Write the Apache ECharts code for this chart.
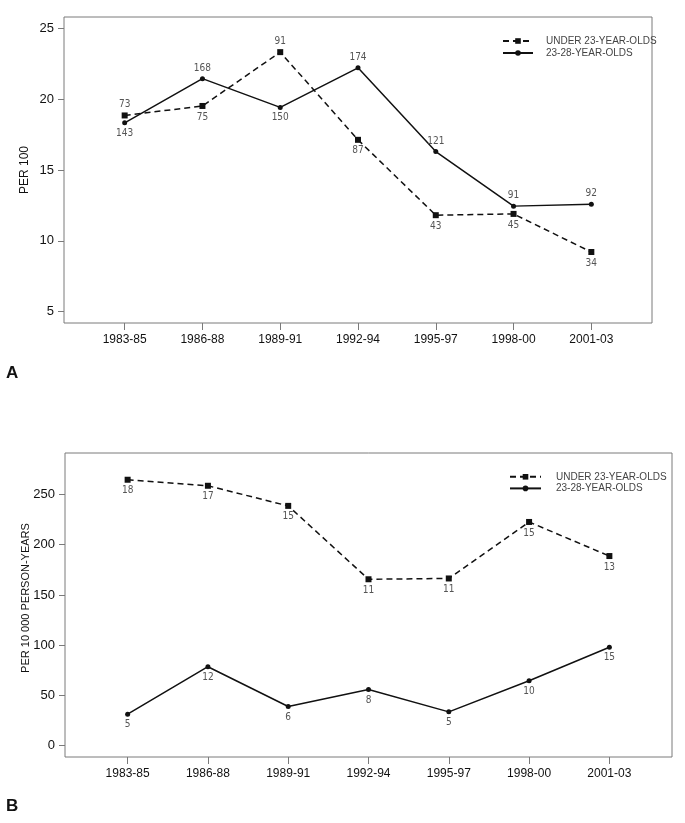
<!DOCTYPE html>
<html>
<head>
<meta charset="utf-8">
<script src="https://cdn.jsdelivr.net/npm/echarts@6/dist/echarts.min.js"></script>
<style>
  html, body { margin: 0; padding: 0; background: #fff; }
  #chart { width: 685px; height: 823px; }
</style>
</head>
<body>
<div id="chart"></div>
<script>
var periods = ['1983-85', '1986-88', '1989-91', '1992-94', '1995-97', '1998-00', '2001-03'];
var seriesNames = ['UNDER 23-YEAR-OLDS', '23-28-YEAR-OLDS'];

// panel A: per 100
var rateA_under23 = [18.85, 19.52, 23.32, 17.13, 11.81, 11.9, 9.21];
var rateA_23to28 = [18.33, 21.45, 19.42, 22.21, 16.3, 12.45, 12.59];
var countA_under23 = [73, 75, 91, 87, 43, 45, 34];
var countA_23to28 = [143, 168, 150, 174, 121, 91, 92];
var ticksA = [5, 10, 15, 20, 25];

// panel B: per 10 000 person-years
var rateB_under23 = [264.6, 258.6, 238.6, 165.6, 166.4, 222.6, 188.7];
var rateB_23to28 = [31.4, 78.6, 39, 56, 33.7, 64.7, 98];
var countB_under23 = [18, 17, 15, 11, 11, 15, 13];
var countB_23to28 = [5, 12, 6, 8, 5, 10, 15];
var ticksB = [0, 50, 100, 150, 200, 250];

// where the count labels sit
var posA_under23 = ['top', 'bottom', 'top', 'bottom', 'bottom', 'bottom', 'bottom'];
var posA_23to28 = ['bottom', 'top', 'bottom', 'top', 'top', 'top', 'top'];

var chart = echarts.init(document.getElementById('chart'));

var tickFont = "'Liberation Sans', Arial, sans-serif";
var labelFont = "'Liberation Sans Narrow', 'DejaVu Sans Condensed', 'Liberation Sans', sans-serif";
var boxColor = '#7a7a7a';

function points(values, counts, pos) {
  return values.map(function (v, i) {
    return {
      value: [i, v],
      count: counts[i],
      label: { position: pos ? pos[i] : 'bottom' }
    };
  });
}

function makeSeries(name, idx, values, counts, pos, dashed) {
  return {
    name: name,
    type: 'line',
    xAxisIndex: idx,
    yAxisIndex: idx,
    data: points(values, counts, pos),
    symbol: dashed ? 'rect' : 'circle',
    symbolSize: dashed ? 6 : 5,
    itemStyle: { color: '#111' },
    lineStyle: { color: '#111', width: 1.5, type: dashed ? [6, 4] : 'solid' },
    label: {
      show: true,
      distance: 3,
      fontSize: 10,
      color: '#555',
      fontFamily: labelFont,
      formatter: function (p) { return p.data.count; }
    },
    animation: false
  };
}

function xAxis(idx) {
  return {
    type: 'value',
    gridIndex: idx,
    min: -0.78,
    max: 6.78,
    axisLine: { show: false, onZero: false },
    splitLine: { show: false },
    axisTick: { show: true, length: 7, lineStyle: { color: boxColor }, customValues: [0, 1, 2, 3, 4, 5, 6] },
    axisLabel: {
      customValues: [0, 1, 2, 3, 4, 5, 6],
      margin: 11,
      fontSize: 12,
      color: '#111',
      fontFamily: tickFont,
      formatter: function (v) { return periods[v]; }
    }
  };
}

function yAxis(idx, min, max, ticks) {
  return {
    type: 'value',
    gridIndex: idx,
    min: min,
    max: max,
    axisLine: { show: false, onZero: false },
    splitLine: { show: false },
    axisTick: { show: true, length: 6, lineStyle: { color: boxColor }, customValues: ticks },
    axisLabel: { customValues: ticks, margin: 10, fontSize: 13, color: '#111', fontFamily: tickFont }
  };
}

// rotated y-axis titles, placed by hand
function yTitle(text, x, y, size) {
  return {
    type: 'text', x: x, y: y, rotation: Math.PI / 2,
    style: { text: text, align: 'center', verticalAlign: 'middle', fontSize: size, fill: '#111', fontFamily: tickFont }
  };
}

var option = {
  backgroundColor: '#fff',
  animation: false,
  grid: [
    { left: 64, top: 17, width: 588, height: 306, show: true, borderColor: boxColor, borderWidth: 1 },
    { left: 65, top: 453, width: 607, height: 304, show: true, borderColor: boxColor, borderWidth: 1 }
  ],
  legend: [
    {
      left: 497, top: 30, orient: 'vertical', itemWidth: 30, itemHeight: 7, itemGap: 0,
      data: seriesNames,
      textStyle: { fontSize: 10, color: '#444', fontFamily: tickFont, lineHeight: 12, padding: [0, 0, 0, 8] }
    },
    {
      left: 504, top: 466, orient: 'vertical', itemWidth: 31, itemHeight: 7, itemGap: 0,
      data: seriesNames,
      textStyle: { fontSize: 10, color: '#444', fontFamily: tickFont, lineHeight: 11.6, padding: [0, 0, 0, 10] }
    }
  ],
  xAxis: [xAxis(0), xAxis(1)],
  yAxis: [
    yAxis(0, 4.2, 25.8, ticksA),
    yAxis(1, -11.2, 291.2, ticksB)
  ],
  graphic: [
    yTitle('PER 100', 25, 170, 12),
    yTitle('PER 10 000 PERSON-YEARS', 26, 598, 11),
    { type: 'text', left: 6, top: 365, style: { text: 'A', fontSize: 17, fontWeight: 'bold', fill: '#111', fontFamily: tickFont } },
    { type: 'text', left: 6, top: 798, style: { text: 'B', fontSize: 17, fontWeight: 'bold', fill: '#111', fontFamily: tickFont } }
  ],
  series: [
    makeSeries(seriesNames[0], 0, rateA_under23, countA_under23, posA_under23, true),
    makeSeries(seriesNames[1], 0, rateA_23to28, countA_23to28, posA_23to28, false),
    makeSeries(seriesNames[0], 1, rateB_under23, countB_under23, null, true),
    makeSeries(seriesNames[1], 1, rateB_23to28, countB_23to28, null, false)
  ]
};

chart.setOption(option);
</script>
</body>
</html>
